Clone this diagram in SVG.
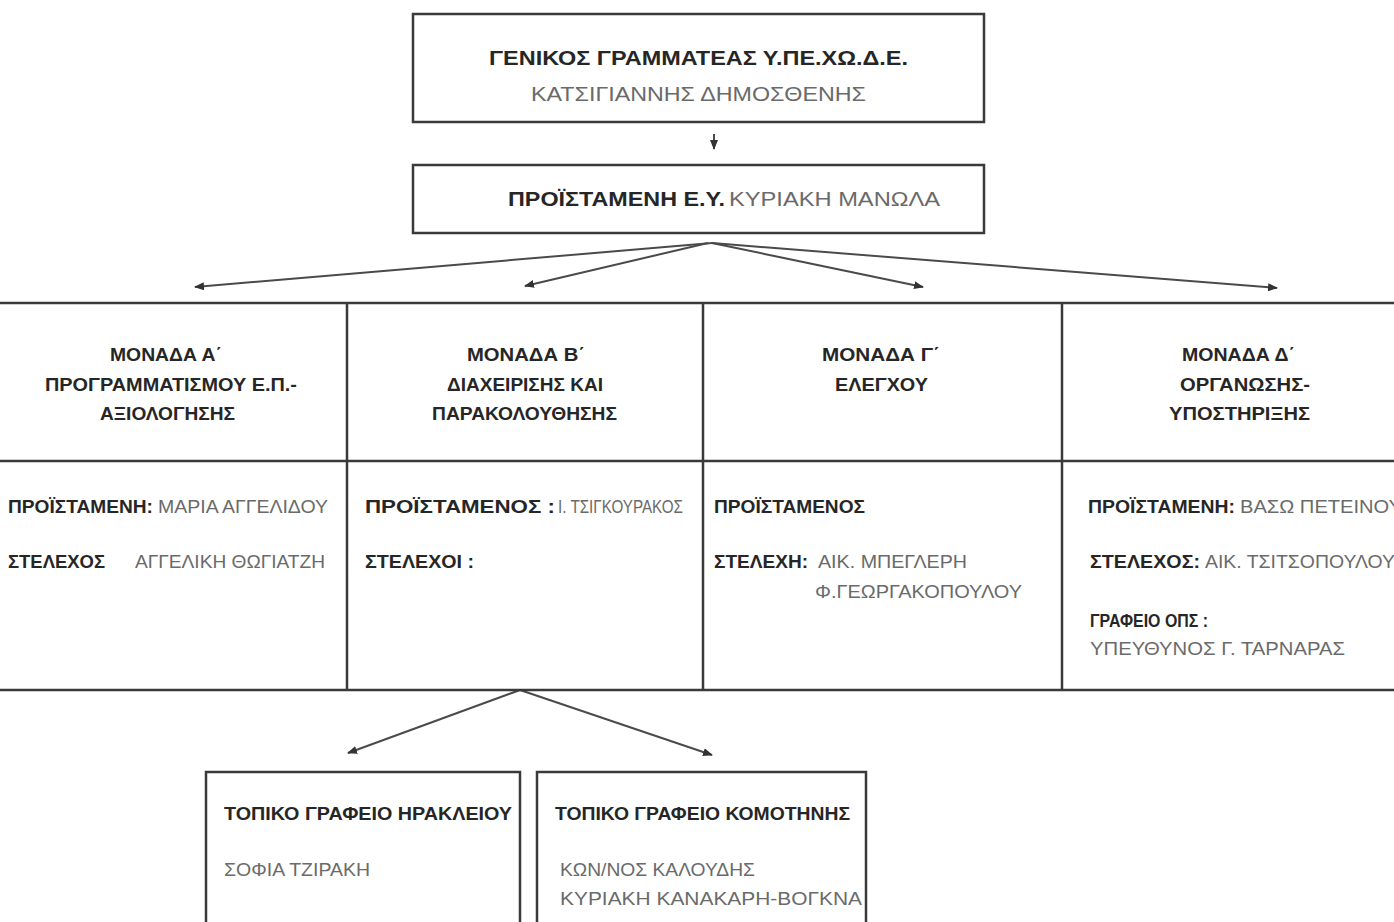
<svg xmlns="http://www.w3.org/2000/svg" width="1394" height="922" viewBox="0 0 1394 922">
<style>
.b{font-family:"Liberation Sans",Arial,sans-serif;font-weight:bold;font-size:19px;fill:#262626}
.r{font-family:"Liberation Sans",Arial,sans-serif;font-size:19px;fill:#6a6a6a}
.t{font-size:21px}
.box{fill:#fff;stroke:#3a3a3a;stroke-width:2.5}
.ln{stroke:#3a3a3a;stroke-width:2.5;fill:none}
.ar{stroke:#4a4a4a;stroke-width:2;fill:none;marker-end:url(#ah)}
</style>
<defs>
<marker id="ah" markerWidth="10" markerHeight="8" refX="9" refY="4" orient="auto" markerUnits="userSpaceOnUse">
<path d="M0,0 L10,4 L0,8 Z" fill="#333"/>
</marker>
</defs>
<rect width="1394" height="922" fill="#fff"/>
<g id="connectors">
<line class="ar" x1="714" y1="134" x2="714" y2="149"/>
<line class="ar" x1="712" y1="243" x2="195" y2="287"/>
<line class="ar" x1="708" y1="243" x2="525" y2="286"/>
<line class="ar" x1="712" y1="243" x2="923" y2="287"/>
<line class="ar" x1="712" y1="243" x2="1277" y2="288"/>
<line class="ar" x1="520" y1="690" x2="348" y2="753"/>
<line class="ar" x1="520" y1="690" x2="712" y2="755"/>
</g>
<g id="gen-grammateas">
<rect class="box" x="413" y="14" width="571" height="108"/>
<text class="b t" x="489" y="65" textLength="419" lengthAdjust="spacingAndGlyphs">ΓΕΝΙΚΟΣ ΓΡΑΜΜΑΤΕΑΣ Υ.ΠΕ.ΧΩ.Δ.Ε.</text>
<text class="r t" x="531" y="101" textLength="335" lengthAdjust="spacingAndGlyphs">ΚΑΤΣΙΓΙΑΝΝΗΣ ΔΗΜΟΣΘΕΝΗΣ</text>
</g>
<g id="proistameni-ey">
<rect class="box" x="413" y="165" width="571" height="68"/>
<text class="b t" x="508" y="206" textLength="217" lengthAdjust="spacingAndGlyphs">ΠΡΟΪΣΤΑΜΕΝΗ Ε.Υ.</text>
<text class="r t" x="729" y="206" textLength="211" lengthAdjust="spacingAndGlyphs">ΚΥΡΙΑΚΗ ΜΑΝΩΛΑ</text>
</g>
<g id="table-lines">
<line class="ln" x1="0" y1="303" x2="1394" y2="303"/>
<line class="ln" x1="0" y1="461" x2="1394" y2="461"/>
<line class="ln" x1="0" y1="690" x2="1394" y2="690"/>
<line class="ln" x1="347" y1="303" x2="347" y2="690"/>
<line class="ln" x1="703" y1="303" x2="703" y2="690"/>
<line class="ln" x1="1062" y1="303" x2="1062" y2="690"/>
</g>
<g id="monada-a">
<text class="b" x="110" y="361" textLength="112" lengthAdjust="spacingAndGlyphs">ΜΟΝΑΔΑ Α΄</text>
<text class="b" x="45" y="391" textLength="252" lengthAdjust="spacingAndGlyphs">ΠΡΟΓΡΑΜΜΑΤΙΣΜΟΥ Ε.Π.-</text>
<text class="b" x="100" y="420" textLength="135" lengthAdjust="spacingAndGlyphs">ΑΞΙΟΛΟΓΗΣΗΣ</text>
<text class="b" x="8" y="513" textLength="145" lengthAdjust="spacingAndGlyphs">ΠΡΟΪΣΤΑΜΕΝΗ:</text>
<text class="r" x="158" y="513" textLength="170" lengthAdjust="spacingAndGlyphs">ΜΑΡΙΑ ΑΓΓΕΛΙΔΟΥ</text>
<text class="b" x="8" y="568" textLength="97" lengthAdjust="spacingAndGlyphs">ΣΤΕΛΕΧΟΣ</text>
<text class="r" x="135" y="568" textLength="190" lengthAdjust="spacingAndGlyphs">ΑΓΓΕΛΙΚΗ ΘΩΓΙΑΤΖΗ</text>
</g>
<g id="monada-b">
<text class="b" x="467" y="361" textLength="118" lengthAdjust="spacingAndGlyphs">ΜΟΝΑΔΑ Β΄</text>
<text class="b" x="447" y="391" textLength="156" lengthAdjust="spacingAndGlyphs">ΔΙΑΧΕΙΡΙΣΗΣ ΚΑΙ</text>
<text class="b" x="432" y="420" textLength="185" lengthAdjust="spacingAndGlyphs">ΠΑΡΑΚΟΛΟΥΘΗΣΗΣ</text>
<text class="b" x="365" y="513" textLength="190" lengthAdjust="spacingAndGlyphs">ΠΡΟΪΣΤΑΜΕΝΟΣ :</text>
<text class="r" x="558" y="513" textLength="125" lengthAdjust="spacingAndGlyphs">Ι. ΤΣΙΓΚΟΥΡΑΚΟΣ</text>
<text class="b" x="365" y="568" textLength="109" lengthAdjust="spacingAndGlyphs">ΣΤΕΛΕΧΟΙ :</text>
</g>
<g id="monada-c">
<text class="b" x="822" y="361" textLength="118" lengthAdjust="spacingAndGlyphs">ΜΟΝΑΔΑ Γ΄</text>
<text class="b" x="835" y="391" textLength="93" lengthAdjust="spacingAndGlyphs">ΕΛΕΓΧΟΥ</text>
<text class="b" x="714" y="513" textLength="151" lengthAdjust="spacingAndGlyphs">ΠΡΟΪΣΤΑΜΕΝΟΣ</text>
<text class="b" x="714" y="568" textLength="94" lengthAdjust="spacingAndGlyphs">ΣΤΕΛΕΧΗ:</text>
<text class="r" x="818" y="568" textLength="149" lengthAdjust="spacingAndGlyphs">ΑΙΚ. ΜΠΕΓΛΕΡΗ</text>
<text class="r" x="815" y="598" textLength="207" lengthAdjust="spacingAndGlyphs">Φ.ΓΕΩΡΓΑΚΟΠΟΥΛΟΥ</text>
</g>
<g id="monada-d">
<text class="b" x="1182" y="361" textLength="113" lengthAdjust="spacingAndGlyphs">ΜΟΝΑΔΑ Δ΄</text>
<text class="b" x="1180" y="391" textLength="130" lengthAdjust="spacingAndGlyphs">ΟΡΓΑΝΩΣΗΣ-</text>
<text class="b" x="1169" y="420" textLength="141" lengthAdjust="spacingAndGlyphs">ΥΠΟΣΤΗΡΙΞΗΣ</text>
<text class="b" x="1088" y="513" textLength="147" lengthAdjust="spacingAndGlyphs">ΠΡΟΪΣΤΑΜΕΝΗ:</text>
<text class="r" x="1240" y="513" textLength="162" lengthAdjust="spacingAndGlyphs">ΒΑΣΩ ΠΕΤΕΙΝΟΥ</text>
<text class="b" x="1090" y="568" textLength="110" lengthAdjust="spacingAndGlyphs">ΣΤΕΛΕΧΟΣ:</text>
<text class="r" x="1205" y="568" textLength="190" lengthAdjust="spacingAndGlyphs">ΑΙΚ. ΤΣΙΤΣΟΠΟΥΛΟΥ</text>
<text class="b" x="1090" y="627" textLength="118" lengthAdjust="spacingAndGlyphs">ΓΡΑΦΕΙΟ ΟΠΣ :</text>
<text class="r" x="1090" y="655" textLength="255" lengthAdjust="spacingAndGlyphs">ΥΠΕΥΘΥΝΟΣ Γ. ΤΑΡΝΑΡΑΣ</text>
</g>
<g id="topiko-irakleiou">
<rect class="box" x="206" y="772" width="314" height="170"/>
<text class="b" x="224" y="820" textLength="288" lengthAdjust="spacingAndGlyphs">ΤΟΠΙΚΟ ΓΡΑΦΕΙΟ ΗΡΑΚΛΕΙΟΥ</text>
<text class="r" x="224" y="876" textLength="146" lengthAdjust="spacingAndGlyphs">ΣΟΦΙΑ ΤΖΙΡΑΚΗ</text>
</g>
<g id="topiko-komotinis">
<rect class="box" x="537" y="772" width="329" height="170"/>
<text class="b" x="555" y="820" textLength="295" lengthAdjust="spacingAndGlyphs">ΤΟΠΙΚΟ ΓΡΑΦΕΙΟ ΚΟΜΟΤΗΝΗΣ</text>
<text class="r" x="560" y="876" textLength="195" lengthAdjust="spacingAndGlyphs">ΚΩΝ/ΝΟΣ ΚΑΛΟΥΔΗΣ</text>
<text class="r" x="560" y="905" textLength="302" lengthAdjust="spacingAndGlyphs">ΚΥΡΙΑΚΗ ΚΑΝΑΚΑΡΗ-ΒΟΓΚΝΑ</text>
</g>
</svg>
